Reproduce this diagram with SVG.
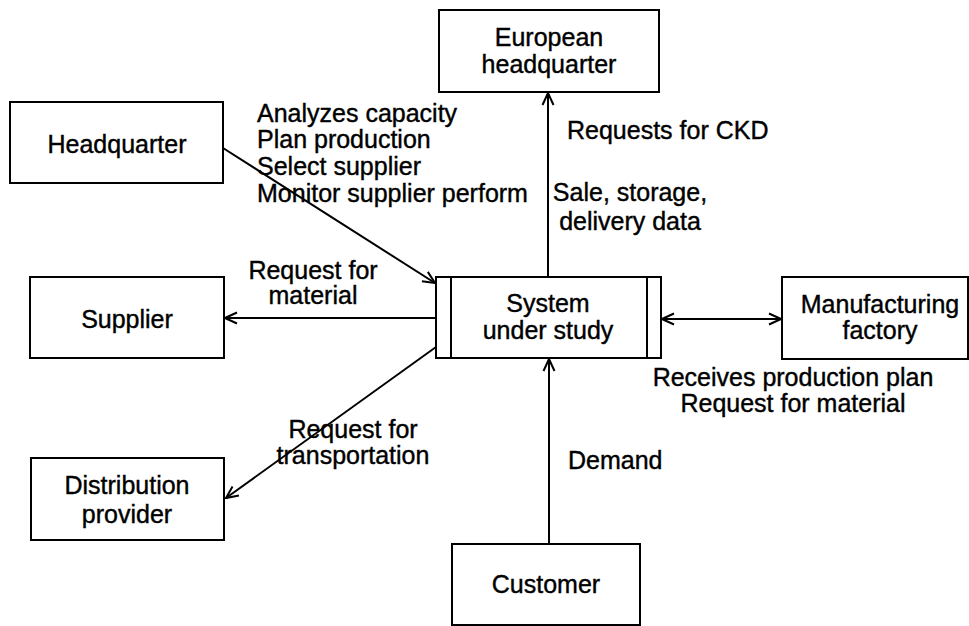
<svg xmlns="http://www.w3.org/2000/svg" width="969" height="626" viewBox="0 0 969 626">
  <style>
    .box { fill: #fff; stroke: #000; stroke-width: 2; }
    .t { font-family: "Liberation Sans", Arial, sans-serif; font-size: 25px; fill: #000; stroke: #000; stroke-width: 0.4; }
    .c { text-anchor: middle; }
    .edge { fill: none; stroke: #000; stroke-width: 2; }
  </style>
  <defs>
    <marker id="arrow" viewBox="0 0 14 14" refX="13" refY="7" markerWidth="14" markerHeight="14" markerUnits="userSpaceOnUse" orient="auto-start-reverse">
      <path d="M1,1.5 L13,7 L1,12.5" fill="none" stroke="#000" stroke-width="2"/>
    </marker>
  </defs>
  <rect width="969" height="626" fill="#fff"/>

  <g id="connectors">
    <line class="edge" x1="223" y1="148" x2="435" y2="283" marker-end="url(#arrow)"/>
    <line class="edge" x1="436" y1="318" x2="225" y2="318" marker-end="url(#arrow)"/>
    <line class="edge" x1="436" y1="347" x2="226" y2="498" marker-end="url(#arrow)"/>
    <line class="edge" x1="548" y1="277" x2="548" y2="93" marker-end="url(#arrow)"/>
    <line class="edge" x1="549" y1="544" x2="549" y2="359" marker-end="url(#arrow)"/>
    <line class="edge" x1="662" y1="319" x2="781" y2="319" marker-start="url(#arrow)" marker-end="url(#arrow)"/>
  </g>

  <g id="labels">
    <text class="t" x="257" y="122">Analyzes capacity</text>
    <text class="t" x="257" y="148">Plan production</text>
    <text class="t" x="257" y="175">Select supplier</text>
    <text class="t" x="257" y="202">Monitor supplier perform</text>
    <text class="t c" x="313" y="279">Request for</text>
    <text class="t c" x="313" y="304">material</text>
    <text class="t c" x="353" y="438">Request for</text>
    <text class="t c" x="353" y="464">transportation</text>
    <text class="t" x="567" y="139">Requests for CKD</text>
    <text class="t c" x="630" y="201">Sale, storage,</text>
    <text class="t c" x="630" y="230">delivery data</text>
    <text class="t c" x="793" y="386">Receives production plan</text>
    <text class="t c" x="793" y="412">Request for material</text>
    <text class="t" x="568" y="469">Demand</text>
  </g>

  <g id="headquarter">
    <rect class="box" x="10" y="102" width="213" height="81"/>
    <text class="t c" x="117" y="153">Headquarter</text>
  </g>
  <g id="european-headquarter">
    <rect class="box" x="439" y="10" width="220" height="82"/>
    <text class="t c" x="549" y="46">European</text>
    <text class="t c" x="549" y="73">headquarter</text>
  </g>
  <g id="supplier">
    <rect class="box" x="30" y="277" width="194" height="81"/>
    <text class="t c" x="127" y="328">Supplier</text>
  </g>
  <g id="system">
    <rect class="box" x="436" y="277" width="225" height="81"/>
    <line class="edge" x1="451" y1="277" x2="451" y2="358"/>
    <line class="edge" x1="647" y1="277" x2="647" y2="358"/>
    <text class="t c" x="548" y="312">System</text>
    <text class="t c" x="548" y="339">under study</text>
  </g>
  <g id="manufacturing-factory">
    <rect class="box" x="782" y="277" width="186" height="82"/>
    <text class="t c" x="880" y="313">Manufacturing</text>
    <text class="t c" x="880" y="339">factory</text>
  </g>
  <g id="distribution-provider">
    <rect class="box" x="31" y="458" width="193" height="82"/>
    <text class="t c" x="127" y="494">Distribution</text>
    <text class="t c" x="127" y="523">provider</text>
  </g>
  <g id="customer">
    <rect class="box" x="452" y="544" width="188" height="81"/>
    <text class="t c" x="546" y="593">Customer</text>
  </g>
</svg>
